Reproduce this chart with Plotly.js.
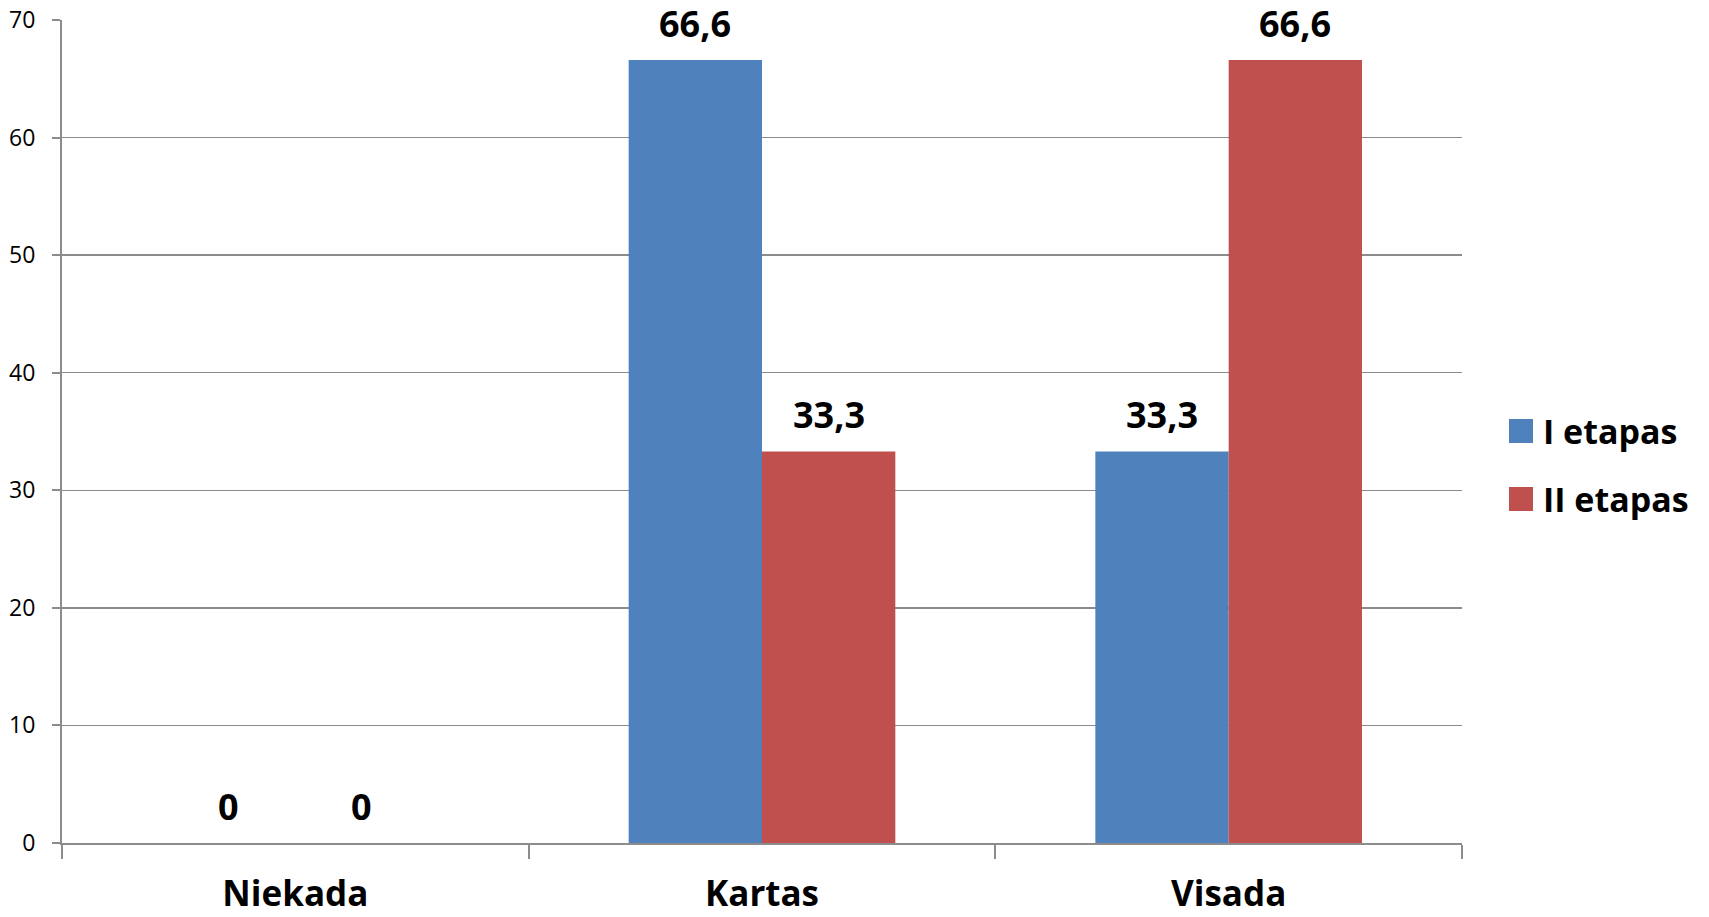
<!DOCTYPE html>
<html>
<head>
<meta charset="utf-8">
<script src="https://cdn.plot.ly/plotly-3.0.1.min.js"></script>
<style>
  html, body { margin: 0; padding: 0; background: #ffffff; }
  #chart { width: 1709px; height: 917px; }
</style>
</head>
<body>
<div id="chart"></div>
<script>
// ---- data ----
const categories = ["Niekada", "Kartas", "Visada"];
const seriesNames = ["I etapas", "II etapas"];
const seriesI = [0, 66.6, 33.3];
const seriesII = [0, 33.3, 66.6];
const yTicks = [0, 10, 20, 30, 40, 50, 60, 70];

// ---- style ----
const colors = ["#4F81BD", "#C0504D"];
const FONT = "Open Sans, Liberation Sans, sans-serif";
const W = 1709, H = 917;
const M = { l: 62, r: 247, t: 20, b: 74 };
const plotW = W - M.l - M.r;
const plotH = H - M.t - M.b;
const BARGAP = 0.4286;
const barPx = plotW / categories.length * (1 - BARGAP) / 2;

const series = [seriesI, seriesII];
const traces = series.map((vals, i) => ({
  type: "bar",
  name: seriesNames[i],
  x: categories,
  y: vals,
  marker: { color: colors[i], line: { width: 0 } },
  hoverinfo: "skip",
  showlegend: false
}));

const fmt = v => String(v).replace(".", ",");

const annotations = [];
series.forEach((vals, i) => {
  vals.forEach((v, j) => {
    annotations.push({
      xref: "x", yref: "y",
      x: categories[j], y: v,
      text: "<b>" + fmt(v) + "</b>",
      showarrow: false,
      xanchor: "center", yanchor: "bottom",
      xshift: (i === 0 ? -1 : 1) * barPx / 2,
      yshift: 10,
      font: { family: FONT, size: 36, color: "#000000" }
    });
  });
});

// custom legend (larger swatches)
const shapes = [];
const legendTop = [419, 487];
legendTop.forEach((top, i) => {
  const x0 = 1509, x1 = 1533, y0 = top, y1 = top + 24;
  shapes.push({
    type: "rect", xref: "paper", yref: "paper",
    x0: (x0 - M.l) / plotW, x1: (x1 - M.l) / plotW,
    y0: (H - M.b - y1) / plotH, y1: (H - M.b - y0) / plotH,
    fillcolor: colors[i], line: { width: 0 }
  });
  annotations.push({
    xref: "paper", yref: "paper",
    x: (1541 - M.l) / plotW,
    y: (H - M.b - (top + 12)) / plotH,
    xanchor: "left", yanchor: "middle",
    text: "<b>" + seriesNames[i] + "</b>",
    showarrow: false,
    font: { family: FONT, size: 34, color: "#000000" }
  });
});

const gridColor = "#8c8c8c";

const layout = {
  width: W, height: H,
  margin: M,
  paper_bgcolor: "#ffffff",
  plot_bgcolor: "#ffffff",
  barmode: "group",
  bargap: BARGAP,
  bargroupgap: 0,
  showlegend: false,
  font: { family: FONT, color: "#000000" },
  xaxis: {
    type: "category",
    tickson: "boundaries",
    ticks: "outside",
    ticklen: 14,
    tickwidth: 2,
    tickcolor: gridColor,
    showline: true,
    linecolor: gridColor,
    linewidth: 2,
    showgrid: false,
    zeroline: false,
    tickfont: { family: FONT, size: 35, color: "#000000", weight: "bold" },
    ticklabelstandoff: 19,
    fixedrange: true
  },
  yaxis: {
    range: [0, 70],
    tickvals: yTicks,
    ticktext: yTicks.map(String),
    ticks: "outside",
    ticklen: 8,
    tickwidth: 2,
    tickcolor: gridColor,
    showline: true,
    linecolor: gridColor,
    linewidth: 2,
    showgrid: true,
    gridcolor: gridColor,
    gridwidth: 1.5,
    zeroline: false,
    tickfont: { family: FONT, size: 23, color: "#000000" },
    ticklabelstandoff: 12,
    fixedrange: true
  },
  annotations: annotations,
  shapes: shapes
};

Plotly.newPlot("chart", traces, layout, { displayModeBar: false, staticPlot: true });
</script>
</body>
</html>
